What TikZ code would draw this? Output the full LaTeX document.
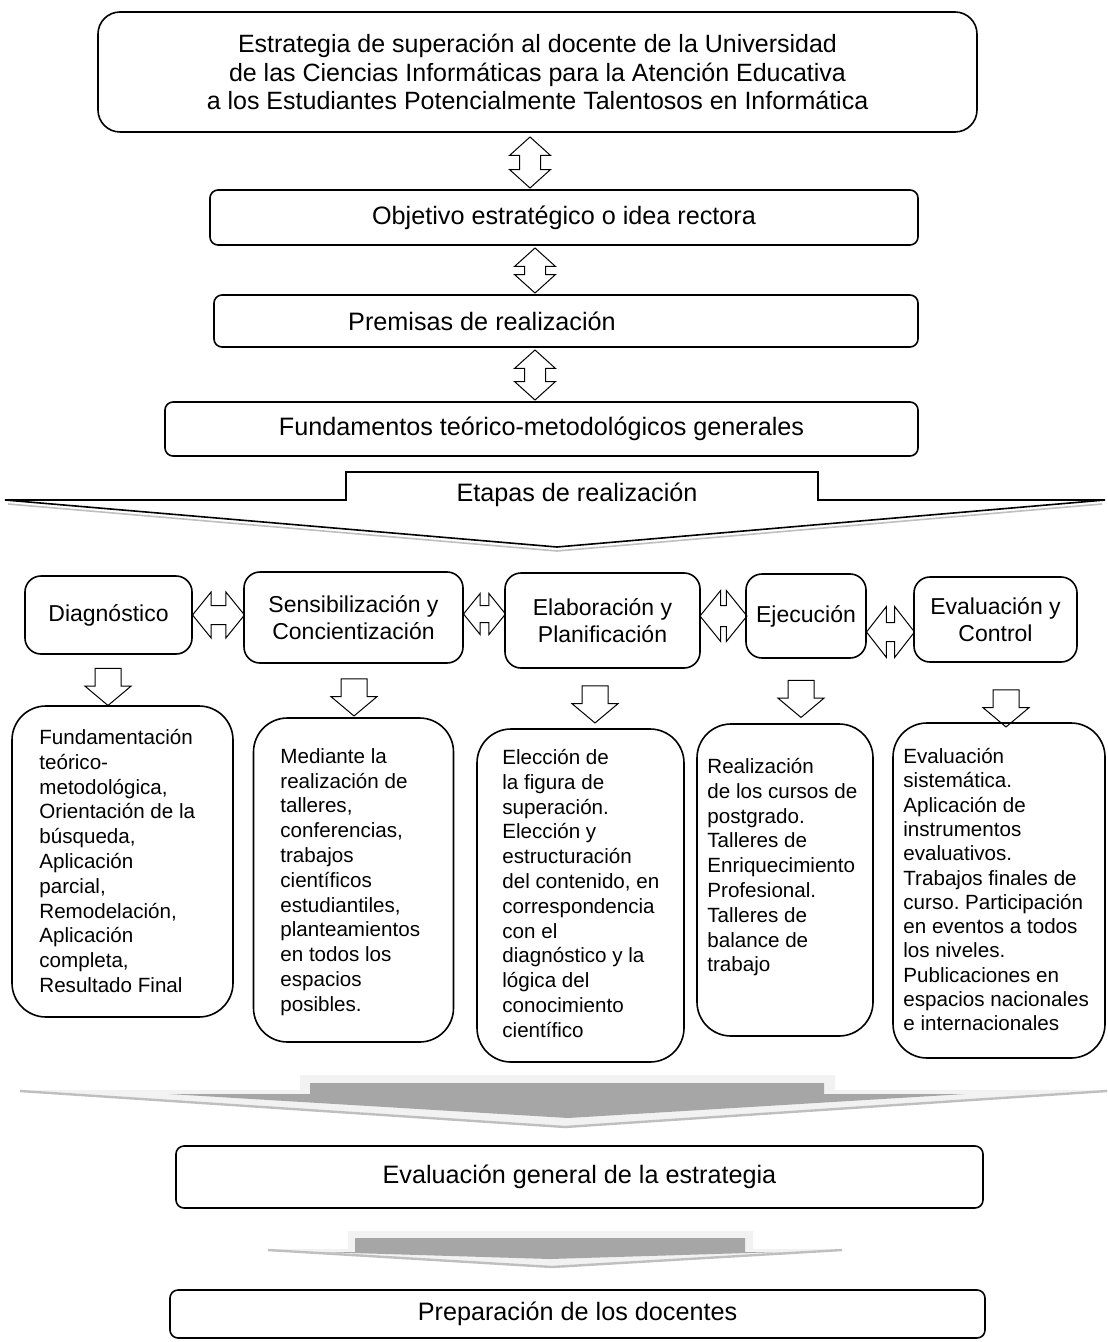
\documentclass[tikz,border=0pt]{standalone}
\usepackage{fontspec}
\setmainfont{Liberation Sans}
\usetikzlibrary{shapes.arrows}
\frenchspacing

\newcommand{\pxu}{0.5pt}
\newcommand{\fonttop}{\fontsize{12.5}{14.25}\selectfont}
\newcommand{\fonthead}{\fontsize{12.6}{15}\selectfont}
\newcommand{\fontstage}{\fontsize{11.5}{13.5}\selectfont}
\newcommand{\fontdetail}{\fontsize{10.3}{12.4}\selectfont}

\definecolor{arrowdark}{HTML}{A6A6A6}
\definecolor{arrowlight}{HTML}{F2F2F2}
\definecolor{arrowshadow}{HTML}{BFBFBF}

\tikzset{
  box/.style={draw, line width=0.8pt, rounded corners=4pt, align=center, inner sep=0pt, font=\fonthead},
  stagebox/.style={draw, line width=0.8pt, rounded corners=8pt, align=center, inner sep=0pt, font=\fontstage},
  detailbox/.style={draw, line width=0.8pt, rounded corners=17pt, inner sep=0pt},
  detailtext/.style={anchor=north west, align=left, inner sep=0pt, font=\fontdetail},
  vdblarrow/.style={double arrow, draw, line width=0.5pt, inner xsep=0pt, inner ysep=5pt, double arrow tip angle=96, double arrow head extend=5pt, rotate=90},
  hdblarrow/.style={double arrow, draw, line width=0.5pt, inner xsep=0pt, inner ysep=4.5pt, double arrow tip angle=102, double arrow head extend=6.75pt},
  downarrow/.style={single arrow, draw, line width=0.5pt, inner xsep=0pt, inner ysep=6.25pt, single arrow tip angle=100, single arrow head extend=5pt, rotate=-90, minimum height=37*\pxu},
}

\begin{document}
\begin{tikzpicture}[x=0.5pt, y=-0.5pt]
\useasboundingbox (0,0) rectangle (1107,1342);

% upper column
\node (T) at (537.5,72) [box, rounded corners=11pt, font=\fonttop, minimum width=879*\pxu, minimum height=120*\pxu]
  {Estrategia de superación al docente de la Universidad\\
   de las Ciencias Informáticas para la Atención Educativa\\
   a los Estudiantes Potencialmente Talentosos en Informática};
\node (O) at (564,217.5) [box, minimum width=708*\pxu, minimum height=55*\pxu] {Objetivo estratégico o idea rectora};
\node (P) at (566,321) [box, minimum width=704*\pxu, minimum height=52*\pxu] {};
\node (P-text) at (482,321) [font=\fonthead, inner sep=0pt] {Premisas de realización};
\node (F) at (541.5,429) [box, minimum width=753*\pxu, minimum height=54*\pxu] {Fundamentos teórico-metodológicos generales};

\node (A-0) at (530,162.5) [vdblarrow, minimum height=51*\pxu] {};
\node (A-1) at (535,270.5) [vdblarrow, minimum height=45*\pxu] {};
\node (A-2) at (535,375) [vdblarrow, minimum height=50*\pxu] {};

% etapas
\draw [arrowshadow, line width=0.8pt] (8,504) -- (557,551) -- (1102,504);
\draw [line width=0.8pt] (5,500) -- (346,500) -- (346,472) -- (818,472) -- (818,500) -- (1105,500) -- (557,547) -- cycle;
\node (E) at (577,495) [font=\fonthead, inner sep=0pt] {Etapas de realización};

\node (S-1) at (108.5,615) [stagebox, minimum width=167*\pxu, minimum height=78*\pxu] {Diagnóstico};
\node (S-2) at (353.5,617.5) [stagebox, minimum width=219*\pxu, minimum height=91*\pxu] {Sensibilización y\\Concientización};
\node (S-3) at (602.5,620.5) [stagebox, minimum width=195*\pxu, minimum height=95*\pxu] {Elaboración y\\Planificación};
\node (S-4) at (806,616) [stagebox, minimum width=120*\pxu, minimum height=84*\pxu] {Ejecución};
\node (S-5) at (995.5,619.5) [stagebox, minimum width=163*\pxu, minimum height=85*\pxu] {Evaluación y\\Control};

\node (H-12) at (218.5,615) [hdblarrow, minimum height=52*\pxu] {};
\node (H-23) at (484.5,614) [hdblarrow, inner ysep=4pt, double arrow head extend=6pt, minimum height=42*\pxu] {};
\node (H-34) at (723.5,616) [hdblarrow, inner ysep=5pt, double arrow head extend=7.5pt, minimum height=47*\pxu] {};
\node (H-45) at (890.5,632) [hdblarrow, inner ysep=4.5pt, double arrow head extend=8pt, double arrow tip angle=104, minimum height=48*\pxu] {};

\node (D-1) at (108,681.5) [downarrow] {};
\node (D-2) at (354,692) [downarrow] {};
\node (D-3) at (595,699) [downarrow] {};
\node (D-4) at (801,693.5) [downarrow] {};
\node (D-5) at (1006,703) [downarrow] {};

% detalles
\node (B-1) at (122.5,861.5) [detailbox, minimum width=221*\pxu, minimum height=311*\pxu] {};
\node (B-2) at (353.5,880) [detailbox, minimum width=200*\pxu, minimum height=324*\pxu] {};
\node (B-3) at (580.5,895.5) [detailbox, minimum width=207*\pxu, minimum height=333*\pxu] {};
\node (B-4) at (785,880) [detailbox, minimum width=176*\pxu, minimum height=312*\pxu] {};
\node (B-5) at (999,890.5) [detailbox, minimum width=212*\pxu, minimum height=335*\pxu] {};

\node (B-1-text) at (39,729) [detailtext]
  {Fundamentación\\teórico-\\metodológica,\\Orientación de la\\búsqueda,\\Aplicación\\parcial,\\Remodelación,\\Aplicación\\completa,\\Resultado Final};
\node (B-2-text) at (280,748) [detailtext]
  {Mediante la\\realización de\\talleres,\\conferencias,\\trabajos\\científicos\\estudiantiles,\\planteamientos\\en todos los\\espacios\\posibles.};
\node (B-3-text) at (502,749) [detailtext]
  {Elección de\\la figura de\\superación.\\Elección y\\estructuración\\del contenido, en\\correspondencia\\con el\\diagnóstico y la\\lógica del\\conocimiento\\científico};
\node (B-4-text) at (707,758) [detailtext]
  {Realización\\de los cursos de\\postgrado.\\Talleres de\\Enriquecimiento\\Profesional.\\Talleres de\\balance de\\trabajo};
\node (B-5-text) at (903,748) [detailtext, font=\fontsize{10.3}{12.15}\selectfont]
  {Evaluación\\sistemática.\\Aplicación de\\instrumentos\\evaluativos.\\Trabajos finales de\\curso. Participación\\en eventos a todos\\los niveles.\\Publicaciones en\\espacios nacionales\\e internacionales};

% flechas grises
\fill [arrowlight] (20,1090) -- (300,1090) -- (300,1075) -- (835,1075) -- (835,1090) -- (1107,1090) -- (565,1127) -- cycle;
\draw [arrowshadow, line width=1.2pt] (20,1091) -- (565,1127) -- (1107,1091);
\fill [arrowdark] (169,1094) -- (310,1094) -- (310,1083) -- (824,1083) -- (824,1094) -- (965,1094) -- (568,1118) -- cycle;

\node (G) at (579.5,1177) [box, minimum width=807*\pxu, minimum height=62*\pxu] {Evaluación general de la estrategia};

\fill [arrowlight] (268,1249) -- (348,1249) -- (348,1231) -- (753,1231) -- (753,1249) -- (842,1249) -- (552,1267) -- cycle;
\draw [arrowshadow, line width=1.2pt] (268,1250) -- (552,1267) -- (842,1250);
\fill [arrowdark] (320,1252) -- (355,1252) -- (355,1238) -- (745,1238) -- (745,1252) -- (780,1252) -- (550,1259) -- cycle;

\node (R) at (577.5,1314) [box, minimum width=815*\pxu, minimum height=48*\pxu] {Preparación de los docentes};

\end{tikzpicture}
\end{document}
